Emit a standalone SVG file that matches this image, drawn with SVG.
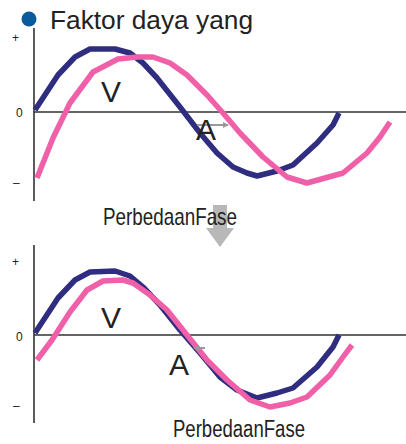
<svg xmlns="http://www.w3.org/2000/svg" width="406" height="444" viewBox="0 0 406 444">
<style>
.ax{stroke:#333;stroke-width:1.6;fill:none}
.tick{font-family:"Liberation Sans",Arial,sans-serif;font-size:12px;fill:#222}
.v{fill:none;stroke:#2e2d7f;stroke-width:5.5;stroke-linejoin:round}
.i{fill:none;stroke:#f060a8;stroke-width:5.5;stroke-linejoin:round}
.lbl{font-family:"Liberation Sans",Arial,sans-serif;font-size:30px;fill:#222}
.pf{font-family:"Liberation Sans",Arial,sans-serif;fill:#222}
.sm{stroke:#999;stroke-width:2;fill:none}
</style>
<defs>
<marker id="ah" markerWidth="6" markerHeight="6" refX="5" refY="3" orient="auto" markerUnits="userSpaceOnUse">
<path d="M0,0 L6,3 L0,6 z" fill="#999"/>
</marker>
</defs>
<g id="title">
<circle cx="29" cy="19" r="7.5" fill="#0b5a9c"/>
<text x="50" y="29" font-family="Liberation Sans,Arial,sans-serif" font-size="25" fill="#222" textLength="203" lengthAdjust="spacingAndGlyphs">Faktor daya yang</text>
</g>
<g id="graph-top">
<path class="ax" d="M34,28 V201 M34,112 H406"/>
<text class="tick" x="12" y="42">+</text>
<text class="tick" x="16" y="117">0</text>
<text class="tick" x="13" y="187">–</text>
<polyline class="v" points="35,110 58,75 75,57 90,49 115,49 130,53 143,63 157,78 180,107 200,133 217,153 233,167 247,173 257,176 277,171 293,165 317,143 333,125 339,113"/>
<polyline class="i" points="37,178 53,138 70,103 93,72 118,59 137,57 153,57 170,63 187,75 207,95 223,113 240,133 263,157 287,177 307,183 343,173 367,153 380,137 390,122"/>
<text class="lbl" x="101" y="102">V</text>
<line class="sm" x1="197" y1="125" x2="228" y2="125" marker-end="url(#ah)"/>
<text class="lbl" x="196" y="140">A</text>
</g>
<g id="arrow-down">
<rect x="213" y="205" width="14" height="24" fill="#b8b8b8"/>
<polygon points="206,228 234,228 220,247" fill="#b8b8b8"/>
</g>
<g id="label-top">
<text class="pf" x="103" y="225" font-size="24" textLength="134" lengthAdjust="spacingAndGlyphs">PerbedaanFase</text>
</g>
<g id="graph-bottom">
<path class="ax" d="M34,245 V423 M34,335 H406"/>
<text class="tick" x="12" y="266">+</text>
<text class="tick" x="16" y="341">0</text>
<text class="tick" x="13" y="410">–</text>
<polyline class="v" points="35,333 58,298 75,280 90,272 115,271 130,276 143,287 160,305 180,330 200,353 220,377 237,390 257,398 277,393 293,388 317,367 333,347 339,335"/>
<polyline class="i" points="37,360 52,340 70,312 87,290 103,281 123,280 133,283 150,295 167,310 187,335 207,360 227,380 250,400 270,407 290,403 307,397 330,375 343,357 352,345"/>
<text class="lbl" x="101" y="328">V</text>
<line class="sm" x1="205" y1="348" x2="194" y2="348" marker-end="url(#ah)"/>
<text class="lbl" x="169" y="375">A</text>
</g>
<g id="label-bottom">
<text class="pf" x="173" y="437" font-size="23" textLength="132" lengthAdjust="spacingAndGlyphs">PerbedaanFase</text>
</g>
</svg>
